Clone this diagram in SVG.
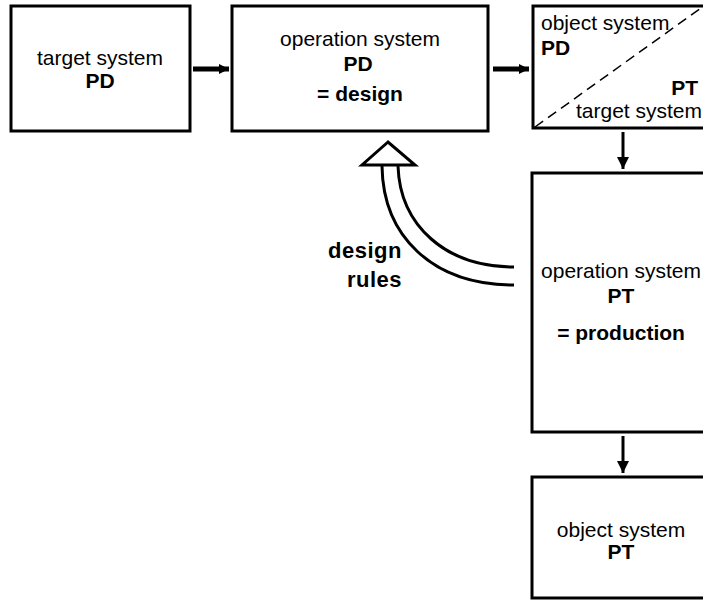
<svg xmlns="http://www.w3.org/2000/svg" width="703" height="600" viewBox="0 0 703 600">
<style>
.box{fill:#fff;stroke:#000;stroke-width:3}
text{font-family:"Liberation Sans",Arial,sans-serif;font-size:21px;fill:#000}
.b{font-weight:bold}
.c{text-anchor:middle}
.r{text-anchor:end}
.sh{stroke:#000;fill:none}
.lbl{font-size:22px;letter-spacing:0.5px}
</style>
<defs>
<marker id="ah" viewBox="0 0 10 10" refX="10" refY="5" markerWidth="10" markerHeight="10" markerUnits="userSpaceOnUse" orient="auto">
<path d="M0,0 L10,5 L0,10 Z" fill="#000"/>
</marker>
<marker id="ahv" viewBox="0 0 10 10" refX="10" refY="5" markerWidth="12" markerHeight="12" markerUnits="userSpaceOnUse" orient="auto">
<path d="M0,0 L10,5 L0,10 Z" fill="#000"/>
</marker>
</defs>
<rect width="703" height="600" fill="#fff"/>
<g id="target-pd">
<rect class="box" x="11" y="6" width="179" height="125"/>
<text class="c" x="100" y="65">target system</text>
<text class="c b" x="100" y="88">PD</text>
</g>
<g id="operation-pd">
<rect class="box" x="232" y="6" width="256" height="125"/>
<text class="c" x="360" y="46">operation system</text>
<text class="c b" x="358" y="71">PD</text>
<text class="c b" x="360" y="101">= design</text>
</g>
<g id="object-pd-target-pt">
<rect class="box" x="533" y="6" width="190" height="122"/>
<line x1="535" y1="127" x2="708" y2="3" stroke="#000" stroke-width="1.5" stroke-dasharray="10,6"/>
<text x="541" y="30">object system</text>
<text class="b" x="541" y="55">PD</text>
<text class="b r" x="698" y="95">PT</text>
<text class="r" x="702" y="118">target system</text>
</g>
<g id="operation-pt">
<rect class="box" x="532" y="173" width="190" height="259"/>
<text class="c" x="621" y="278">operation system</text>
<text class="c b" x="621" y="303">PT</text>
<text class="c b" x="621" y="340">= production</text>
</g>
<g id="object-pt">
<rect class="box" x="532" y="477" width="190" height="121"/>
<text class="c" x="621" y="537">object system</text>
<text class="c b" x="621" y="559">PT</text>
</g>
<g id="connectors">
<line class="sh" x1="193" y1="69" x2="229" y2="69" stroke-width="5" marker-end="url(#ah)"/>
<line class="sh" x1="493" y1="69" x2="529" y2="69" stroke-width="5" marker-end="url(#ah)"/>
<line class="sh" x1="623" y1="132" x2="623" y2="169" stroke-width="3" marker-end="url(#ahv)"/>
<line class="sh" x1="623" y1="436" x2="623" y2="473" stroke-width="3" marker-end="url(#ahv)"/>
<g id="design-rules">
<path class="sh" stroke-width="3" d="M382,166 C383,236 432,285 514,285"/>
<path class="sh" stroke-width="3" d="M398,166 C400,226 446,267 514,267"/>
<path d="M388,142 L362,165 L415,165 Z" fill="#fff" stroke="#000" stroke-width="3" stroke-linejoin="miter"/>
<text class="b r lbl" x="402" y="258">design</text>
<text class="b r lbl" x="402" y="287">rules</text>
</g>
</g>
</svg>
